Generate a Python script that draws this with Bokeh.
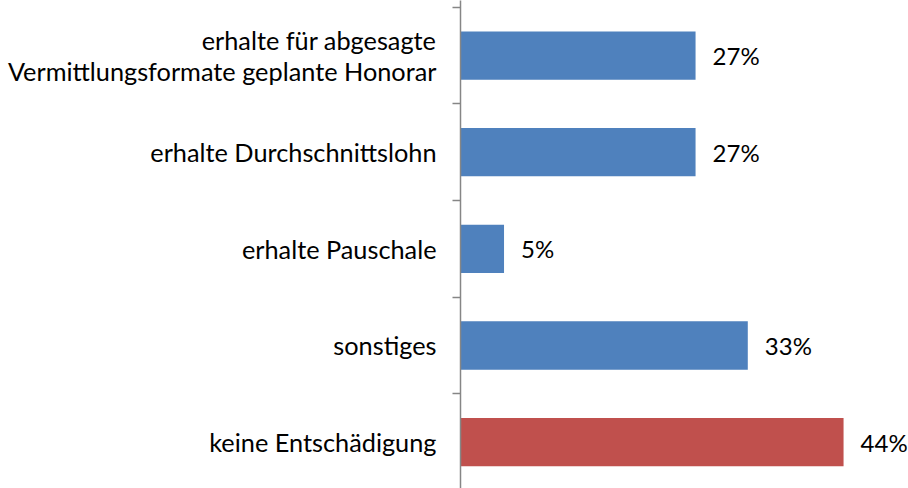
from bokeh.plotting import figure
from bokeh.models import Range1d, FixedTicker
from bokeh.core.properties import value
from bokeh.embed import file_html
from bokeh.resources import INLINE

# Data (top to bottom)
categories = [
    "erhalte für abgesagte\nVermittlungsformate geplante Honorar",
    "erhalte Durchschnittslohn",
    "erhalte Pauschale",
    "sonstiges",
    "keine Entschädigung",
]
values = [27, 27, 5, 33, 44]
colors = ["#4F81BD", "#4F81BD", "#4F81BD", "#4F81BD", "#C0504D"]

n = len(categories)
centers = [n - i - 0.5 for i in range(n)]
boundaries = [float(i) for i in range(n + 1)]
pct_labels = [f"{v}%" for v in values]

FONT = "Lato"

p = figure(width=908, height=488, output_backend="svg", toolbar_location=None,
           x_range=Range1d(0, 51.46), y_range=Range1d(0.02, 5.07),
           min_border_left=460, min_border_right=0, min_border_top=0, min_border_bottom=0)
p.outline_line_color = None
p.xgrid.visible = False
p.ygrid.visible = False
p.xaxis.visible = False

p.hbar(y=centers, right=values, left=0, height=0.5, color=colors, line_color=None)
p.text(x=values, y=centers, text=pct_labels, x_offset=17, text_baseline="middle",
       text_align="left", text_font=value(FONT), text_font_size="24px", text_color="#000000")

ax = p.yaxis[0]
ax.ticker = FixedTicker(ticks=centers, minor_ticks=boundaries)
ax.major_label_overrides = {c: lab for c, lab in zip(centers, categories)}
ax.major_tick_out = 0
ax.major_tick_in = 0
ax.minor_tick_out = 8
ax.minor_tick_in = 0
ax.minor_tick_line_color = "#868686"
ax.minor_tick_line_width = 1.5
ax.axis_line_color = "#868686"
ax.axis_line_width = 1.5
ax.major_label_standoff = 16
ax.major_label_text_font = FONT
ax.major_label_text_font_size = "25.3px"
ax.major_label_text_line_height = 1.05
ax.major_label_text_align = "center"
ax.major_label_text_color = "#000000"

open("out.html", "w").write(file_html(p, INLINE))
